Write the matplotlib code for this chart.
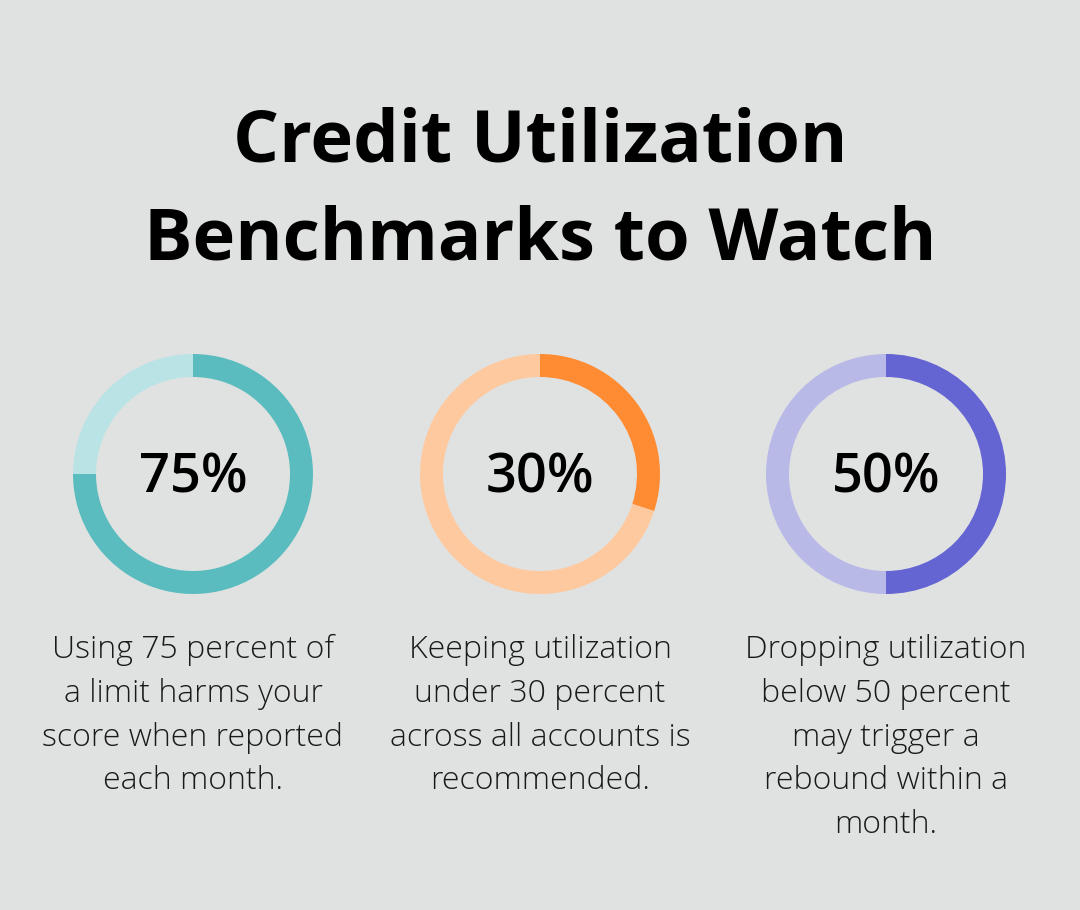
import matplotlib
matplotlib.use("Agg")
import matplotlib.pyplot as plt

W, H = 1080, 910
BG = "#e0e2e1"

title_lines = ["Credit Utilization", "Benchmarks to Watch"]
values = [75, 30, 50]
labels = ["75%", "30%", "50%"]
descriptions = [
    "Using 75 percent of\na limit harms your\nscore when reported\neach month.",
    "Keeping utilization\nunder 30 percent\nacross all accounts is\nrecommended.",
    "Dropping utilization\nbelow 50 percent\nmay trigger a\nrebound within a\nmonth.",
]
dark_colors = ["#5bbcbf", "#ff8c33", "#6464d2"]
light_colors = ["#b9e3e5", "#ffc9a0", "#b9b9e8"]

centers_x = [193, 540, 886]
center_y = 474
R = 120
ring_w = 23

plt.rcParams["font.family"] = ["Open Sans", "DejaVu Sans"]
fig = plt.figure(figsize=(W / 100, H / 100), dpi=100)
fig.patch.set_facecolor(BG)

fig.text(540 / W, 1 - 143 / H, title_lines[0], ha="center", va="center",
         fontsize=52, fontweight="bold", color="#000000")
fig.text(540 / W, 1 - 241 / H, title_lines[1], ha="center", va="center",
         fontsize=52, fontweight="bold", color="#000000")

for cx, v, lab, desc, dc, lc in zip(centers_x, values, labels, descriptions,
                                     dark_colors, light_colors):
    ax = fig.add_axes([(cx - R) / W, 1 - (center_y + R) / H, 2 * R / W, 2 * R / H])
    ax.set_facecolor("none")
    ax.pie([v, 100 - v], colors=[dc, lc], startangle=90, counterclock=False,
           radius=1, wedgeprops=dict(width=ring_w / R, linewidth=0))
    ax.set_xlim(-1, 1)
    ax.set_ylim(-1, 1)
    ax.set_aspect("equal")
    ax.axis("off")
    ax.text(0, -0.04, lab, ha="center", va="center", fontsize=39,
            fontweight="semibold", color="#000000")
    fig.text(cx / W, 1 - 634 / H, desc, ha="center", va="top",
             fontsize=23, fontweight="light", color="#1a1a1a", linespacing=1.49)

fig.savefig("out.png", dpi=100, facecolor=BG)
